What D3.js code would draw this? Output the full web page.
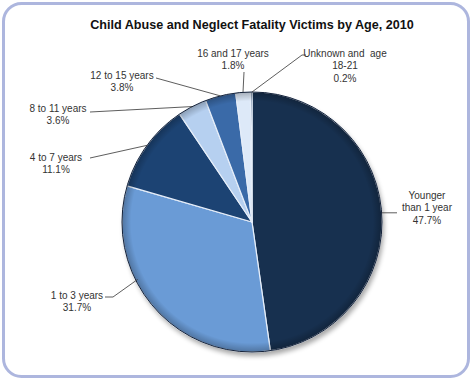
<!DOCTYPE html>
<html><head><meta charset="utf-8">
<script src="https://cdn.jsdelivr.net/npm/d3@7/dist/d3.min.js"></script>
<style>body{margin:0;background:#fff;}svg{display:block;} text{white-space:pre;}</style>
</head><body>
<svg id="c" width="474" height="382"></svg>
<script>
const categories = ["Younger than 1 year","1 to 3 years","4 to 7 years","8 to 11 years","12 to 15 years","16 and 17 years","Unknown and age 18-21"];
const values = [47.7, 31.7, 11.1, 3.6, 3.8, 1.8, 0.2];
const labelLines = [["Younger","than 1 year","47.7%"],["1 to 3 years","31.7%"],["4 to 7 years","11.1%"],["8 to 11 years","3.6%"],["12 to 15 years","3.8%"],["16 and 17 years","1.8%"],["Unknown and  age","18-21","0.2%"]];
const title = "Child Abuse and Neglect Fatality Victims by Age, 2010";

// styling / layout
const colors = ["#17304f","#6a9bd6","#1c4373","#b6d0f0","#3a6aa8","#dde9f8","#1c3a63"];
const cx = 252, cy = 222, R = 130;
const labelLayout = [
  {x:427, y:195, bend:[397,212]},
  {x:77,  y:295, bend:[113,297], from:[105,297]},
  {x:56,  y:157, bend:[90,158]},
  {x:58,  y:108, bend:[90,112]},
  {x:122, y:75,  bend:[156,78]},
  {x:233, y:53,  bend:[244,72]},
  {x:345, y:53,  bend:[302,55], tail:[306,55]}
];

const svg = d3.select("#c");
svg.append("rect").attr("x",3.5).attr("y",3.5).attr("width",465).attr("height",373)
  .attr("rx",18).attr("fill","#fff").attr("stroke","#adb6de").attr("stroke-width",3);

svg.append("text").attr("x",252).attr("y",29).attr("text-anchor","middle")
  .attr("font-family","Liberation Sans, Arial, sans-serif").attr("font-weight","bold")
  .attr("font-size",12.6).attr("fill","#111").text(title);

const defs = svg.append("defs");
const f = defs.append("filter").attr("id","sh").attr("x","-20%").attr("y","-20%").attr("width","140%").attr("height","140%");
f.append("feGaussianBlur").attr("stdDeviation",2.5);
const rim = defs.append("radialGradient").attr("id","rim").attr("gradientUnits","userSpaceOnUse")
  .attr("cx",0).attr("cy",0).attr("r",R);
rim.append("stop").attr("offset","93%").attr("stop-color","#000").attr("stop-opacity",0);
rim.append("stop").attr("offset","100%").attr("stop-color","#000").attr("stop-opacity",0.25);

const pie = d3.pie().sort(null).value(d=>d)(values);
const arc = d3.arc().innerRadius(0).outerRadius(R);
const gPie = svg.append("g").attr("transform",`translate(${cx},${cy})`);
gPie.append("circle").attr("cx",2).attr("cy",4).attr("r",R).attr("fill","#000").attr("opacity",0.35).attr("filter","url(#sh)");
gPie.selectAll("path.s").data(pie).join("path").attr("class","s")
  .attr("d",arc).attr("fill",(d,i)=>colors[i])
  .attr("stroke","#e6eef9").attr("stroke-width",1.2).attr("stroke-linejoin","round");
gPie.append("circle").attr("r",R).attr("fill","url(#rim)");
gPie.append("circle").attr("r",R).attr("fill","none").attr("stroke","#14223a").attr("stroke-width",1);

const font = "Liberation Sans, Arial, sans-serif";
const gl = svg.append("g");
pie.forEach((d,i)=>{
  const L = labelLayout[i];
  const a = (d.startAngle+d.endAngle)/2;
  const p = [cx + R*Math.sin(a), cy - R*Math.cos(a)];
  const pts = [];
  if (i===0){ pts.push(p,[L.bend[0],p[1]]); }
  else if (i===1){ pts.push(L.from,L.bend,[cx+(R-2)*Math.sin(a+0.25), cy-(R-2)*Math.cos(a+0.25)]); }
  else if (i===6){ pts.push([cx+R*Math.sin(d.endAngle), cy-R*Math.cos(d.endAngle)], L.bend, L.tail); }
  else { pts.push(L.bend,p); }
  gl.append("path").attr("d",d3.line()(pts)).attr("fill","none").attr("stroke","#333").attr("stroke-width",0.8);
  const t = gl.append("text").attr("font-family",font).attr("font-size",10).attr("fill","#333")
    .attr("text-anchor","middle");
  labelLines[i].forEach((s,k)=>{
    t.append("tspan").attr("x",L.x).attr("y",L.y+4+k*12.3).text(s);
  });
});
</script>
</body></html>
